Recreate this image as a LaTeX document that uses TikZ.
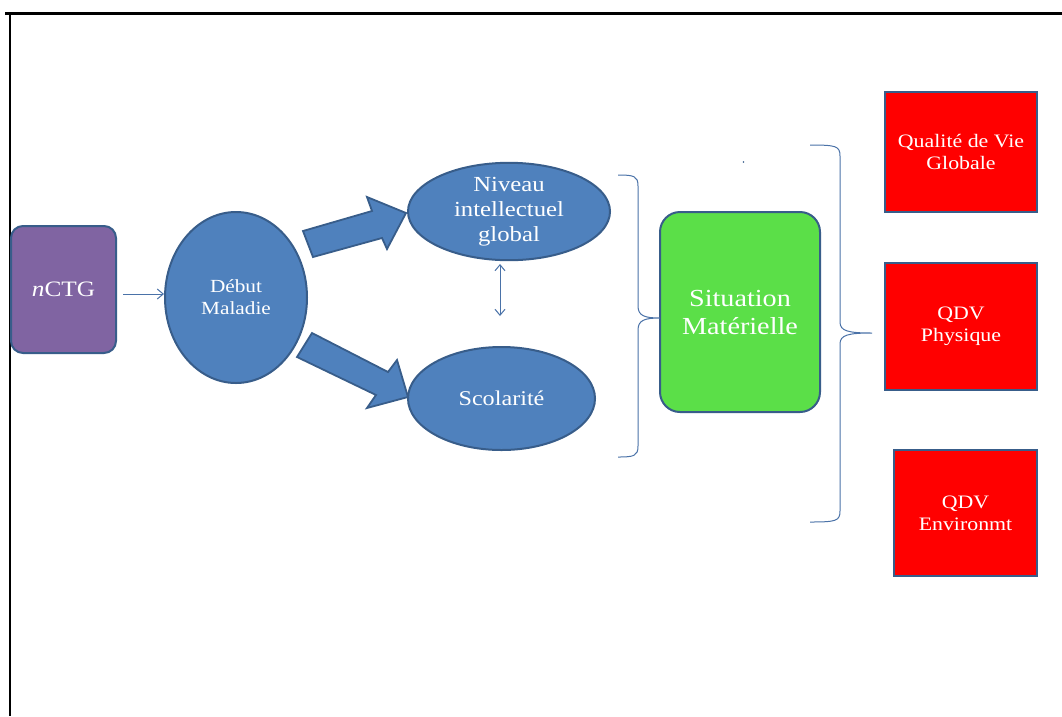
\documentclass[tikz,border=0pt]{standalone}
\usepackage{fontspec}
\setmainfont{Liberation Serif}[FakeStretch=1.15]
\usetikzlibrary{arrows.meta,shapes.geometric}
\definecolor{edgeblue}{HTML}{385D8A}
\definecolor{fillblue}{HTML}{4F81BD}
\definecolor{lineblue}{HTML}{4A72A8}
\definecolor{purplefill}{HTML}{8064A2}
\definecolor{greenfill}{HTML}{5BDF48}
\begin{document}
\begin{tikzpicture}[x=1pt,y=-1pt,
  every node/.style={text=white, align=center, inner sep=0pt},
  bluebody/.style={draw=edgeblue, line width=2pt, fill=fillblue},
  ovalnode/.style={bluebody, ellipse},
  redbox/.style={draw=edgeblue, line width=2.2pt, fill=red, font=\fontsize{19}{22}\selectfont},
  thinarrow/.style={draw=lineblue, line width=1pt, -{Straight Barb[length=6pt,width=10pt]}},
  bracestyle/.style={draw=lineblue, line width=1pt},
  blockarrow/.style={bluebody, line width=1.8pt, line join=miter}
]
\useasboundingbox (0,0) rectangle (1062,716);
\fill[white] (0,0) rectangle (1062,716);

% page frame
\draw[black, line width=3pt] (5,13) -- (1062,13);
\draw[black, line width=2.5pt] (10,12) -- (10,716);

% boxes and ovals
\node[draw=edgeblue, line width=2pt, fill=purplefill, rounded corners=12pt,
      minimum width=105pt, minimum height=127pt, font=\fontsize{22}{26}\selectfont]
  (nctg) at (63.5,289.5) {\textit{n}CTG};
\node[ovalnode, minimum width=142pt, minimum height=171pt, font=\fontsize{18.5}{22}\selectfont]
  (debut) at (236,297.5) {Début\\Maladie};
\node[ovalnode, minimum width=202pt, minimum height=93pt, font=\fontsize{21.5}{25}\selectfont]
  (niveau) at (509,211.5) {Niveau\\intellectuel\\global};
\node[ovalnode, minimum width=187pt, minimum height=103pt, font=\fontsize{21}{24}\selectfont]
  (scol) at (501.5,398.5) {Scolarité};
\node[draw=edgeblue, line width=2pt, fill=greenfill, rounded corners=20pt,
      minimum width=160pt, minimum height=200pt, font=\fontsize{24.5}{28}\selectfont]
  (situ) at (740,312) {Situation\\Matérielle};
\node[redbox, minimum width=152pt, minimum height=120pt] (qglob) at (961,152) {Qualité de Vie\\Globale};
\node[redbox, minimum width=152pt, minimum height=127pt] (qphys) at (961,326.5) {QDV\\Physique};
\node[redbox, minimum width=143pt, minimum height=126pt] (qenv) at (965.5,513) {QDV\\Environmt};

% thin connectors
\coordinate (nstart) at (123,294);
\draw[thinarrow] (nstart) -- (nstart -| debut.west);
\coordinate (dtop) at (500,264);
\coordinate (dbot) at (500,316);
\draw[draw=lineblue, line width=1pt, {Straight Barb[length=6pt,width=10pt]}-{Straight Barb[length=6pt,width=10pt]}] (dtop) -- (dbot);

% block arrows from the onset oval
\draw[blockarrow] (303,231) -- (372,211) -- (367,197) -- (406,213) -- (387,249) -- (382,238) -- (313,257) -- cycle;
\draw[blockarrow] (312,333) -- (388,372) -- (397,360) -- (408,397) -- (367,408) -- (376,395) -- (297,357) -- cycle;

% left brace
\draw[bracestyle] (618,175) .. controls (634,175) and (638,176) .. (638,186)
  -- (638,306) .. controls (638,316) and (645,318) .. (660,318)
  .. controls (645,318) and (638,320) .. (638,330)
  -- (638,446) .. controls (638,456) and (634,457) .. (618,457);
% right brace
\draw[bracestyle] (810,145) .. controls (836,145) and (840,146) .. (840,156)
  -- (840,322) .. controls (840,331) and (848,333) .. (872,333)
  .. controls (848,333) and (840,335) .. (840,344)
  -- (840,511) .. controls (840,521) and (836,522) .. (810,522);

% stray dot
\fill[edgeblue] (743.5,162) circle (0.9pt);
\end{tikzpicture}
\end{document}
